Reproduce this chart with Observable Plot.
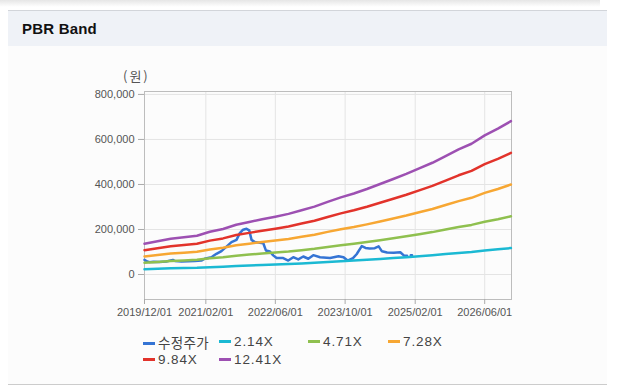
<!DOCTYPE html>
<html>
<head>
<meta charset="utf-8">
<script src="https://cdn.jsdelivr.net/npm/d3@7"></script>
<script src="https://cdn.jsdelivr.net/npm/@observablehq/plot@0.6"></script>
<style>
  html, body { margin: 0; padding: 0; background: #fff; }
  body { width: 618px; height: 390px; position: relative; overflow: hidden; font-family: "Liberation Sans", Arial, "Noto Sans CJK KR", sans-serif; }
  #shadow { position: absolute; left: 0; top: 0; width: 600px; height: 7px; background: linear-gradient(#e6e6e6, #ffffff); }
  #panel { position: absolute; left: 8px; top: 10px; width: 599px; height: 374px; background: #fcfcfc; border-bottom: 1px solid #cccccc; }
  #bar { position: absolute; left: 0; top: 0; width: 599px; height: 35px; background: #eff2f7; border-top: 1px solid #d2d5da; }
  #title { position: absolute; left: 14px; top: 9px; font-size: 15px; font-weight: bold; color: #111; letter-spacing: 0.2px; }
  #chart { position: absolute; left: 0; top: 0; }
  #unit { position: absolute; left: 123px; top: 66px; font-size: 13px; color: #555; letter-spacing: 2px; font-family: "Noto Sans CJK KR", "Liberation Sans", sans-serif; }
  .lg { position: absolute; font-size: 13.5px; color: #444; letter-spacing: 0.9px; white-space: nowrap; line-height: 16px; }
  .lg .sw { display: inline-block; width: 12px; height: 3px; vertical-align: middle; margin-right: 3px; position: relative; top: -1px; }
  .lg.kr { letter-spacing: 0.3px; font-family: "Noto Sans CJK KR", sans-serif; }
</style>
</head>
<body>
<div id="shadow"></div>
<div id="panel"><div id="bar"><div id="title">PBR Band</div></div></div>
<div id="chart"></div>
<div id="unit">(원)</div>
<div id="legend"></div>
<script>
// ---- data ----
const seriesNames = ["수정주가", "2.14X", "4.71X", "7.28X", "9.84X", "12.41X"];
const seriesColors = ["#3574d4", "#1bb9d3", "#8fc04f", "#f7a733", "#e2332b", "#9d50b2"];

const xTicks = ["2019-12-01", "2021-02-01", "2022-06-01", "2023-10-01", "2025-02-01", "2026-06-01"];
const yTicks = [0, 200000, 400000, 600000, 800000];

const bandDates = ["2019-12-01","2020-03-01","2020-06-01","2020-09-01","2020-12-01","2021-03-01","2021-06-01","2021-09-01","2021-12-01",
  "2022-03-01","2022-06-01","2022-09-01","2022-12-01","2023-03-01","2023-06-01","2023-09-01","2023-12-01",
  "2024-03-01","2024-06-01","2024-09-01","2024-12-01","2025-03-01","2025-06-01","2025-09-01","2025-12-01",
  "2026-03-01","2026-06-01","2026-09-01","2026-12-01"];

const band214 = [23500,25500,27400,28500,29700,32700,34900,38100,40200,42400,44300,46400,49200,52000,55600,59100,62100,
  65500,69300,73200,77000,81300,85600,90700,95900,100200,106600,111700,117500];
const band471 = [51800,56000,60300,62600,65500,72100,76800,83800,88500,93300,97500,102200,108300,114500,122500,130000,136600,
  144100,152600,161100,169600,179000,188400,199700,211000,220400,234600,245900,258600];
const band728 = [80100,86600,93200,96800,101200,111400,118700,129600,136900,144100,150700,158000,167400,176900,189300,200900,211100,
  222800,235900,249000,262100,276600,291200,308700,326100,340700,362500,380000,399700];
const band984 = [108200,117100,126000,130900,136800,150600,160400,175200,185000,194800,203700,213500,226300,239100,255800,271600,285400,
  301100,318800,336500,354200,373900,393600,417200,440800,460500,490000,513600,540200];
const band1241 = [136500,147700,158800,165100,172500,189900,202300,220900,233300,245700,256900,269300,285400,301600,322700,342500,359900,
  379700,402100,424400,446800,471600,496400,526200,556000,580800,618000,647800,681300];

const priceDates = ["2019-12-01","2019-12-20","2020-01-05","2020-02-01","2020-03-15","2020-05-01","2020-06-16","2020-07-01","2020-08-15",
  "2020-10-01","2020-11-15","2021-01-01","2021-01-24","2021-03-12","2021-04-16","2021-05-21","2021-06-25","2021-07-30","2021-09-03",
  "2021-09-26","2021-10-19","2021-11-12","2021-12-01","2021-12-17","2022-01-09","2022-03-09","2022-03-27","2022-04-24","2022-05-17",
  "2022-06-10","2022-07-26","2022-08-30","2022-10-04","2022-11-08","2022-12-13","2023-01-17","2023-02-21","2023-04-09","2023-06-18",
  "2023-08-16","2023-09-20","2023-10-18","2023-11-25","2023-12-20","2024-01-25","2024-02-20","2024-03-20","2024-04-25","2024-05-22",
  "2024-06-14","2024-07-20","2024-09-04","2024-10-20","2024-11-15","2024-12-06","2024-12-20","2025-01-01","2025-01-10"];
const priceValues = [65000,58000,55000,57000,56000,58000,65000,60000,58000,
  59000,60000,62000,70000,77000,92000,104000,124000,144000,154000,
  184000,199000,203000,196000,154000,144000,139000,107000,102000,85000,
  73000,73000,62000,77000,67000,80000,70000,86000,77000,73000,
  81000,77000,62000,73000,90000,126000,118000,116000,117000,125000,
  103000,98000,97000,99000,84000,83000,null,86000,86000];

// ---- build tables ----
const parse = d3.utcParse("%Y-%m-%d");
const bandArrays = [band214, band471, band728, band984, band1241];
const bandRows = [];
bandArrays.forEach((arr, k) => arr.forEach((v, i) => bandRows.push({date: parse(bandDates[i]), value: v, series: seriesNames[k + 1]})));
const priceRows = priceDates.map((d, i) => ({date: parse(d), value: priceValues[i]}));
const xTickDates = xTicks.map(parse);

const chart = Plot.plot({
  width: 618,
  height: 390,
  marginLeft: 144,
  marginRight: 107,
  marginTop: 91,
  marginBottom: 91,
  style: {background: "transparent", fontFamily: "Liberation Sans, Arial, sans-serif", fontSize: "11px", color: "#555"},
  x: {type: "utc", domain: [parse("2019-12-01"), parse("2026-12-05")], label: null},
  y: {domain: [-111000, 813000], label: null},
  color: {domain: seriesNames, range: seriesColors},
  marks: [
    Plot.gridX(xTickDates, {stroke: "#e4e4e4", strokeOpacity: 1}),
    Plot.gridY(yTicks, {stroke: "#e4e4e4", strokeOpacity: 1}),
    Plot.frame({stroke: "#bdbdbd"}),
    Plot.line(priceRows, {x: "date", y: "value", stroke: seriesColors[0], strokeWidth: 2.5, defined: d => d.value != null}),
    Plot.line(bandRows, {x: "date", y: "value", z: "series", stroke: "series", strokeWidth: 2.5}),
    Plot.axisX(xTickDates, {tickFormat: d3.utcFormat("%Y/%m/%d"), tickSize: 5, tickPadding: 4, stroke: "#aaa", fill: "#555", label: null}),
    Plot.axisY(yTicks, {tickFormat: d3.format(","), tickSize: 6, tickPadding: 4, stroke: "#aaa", fill: "#555", label: null})
  ]
});
document.getElementById("chart").appendChild(chart);

// ---- legend ----
const legendPos = [[143, 334], [219, 334], [308, 334], [388, 334], [143, 352], [219, 352]];
const lg = document.getElementById("legend");
seriesNames.forEach((name, i) => {
  const el = document.createElement("div");
  el.className = "lg" + (i === 0 ? " kr" : "");
  el.style.left = legendPos[i][0] + "px";
  el.style.top = legendPos[i][1] + "px";
  el.innerHTML = `<span class="sw" style="background:${seriesColors[i]}"></span>${name}`;
  lg.appendChild(el);
});
</script>
</body>
</html>
